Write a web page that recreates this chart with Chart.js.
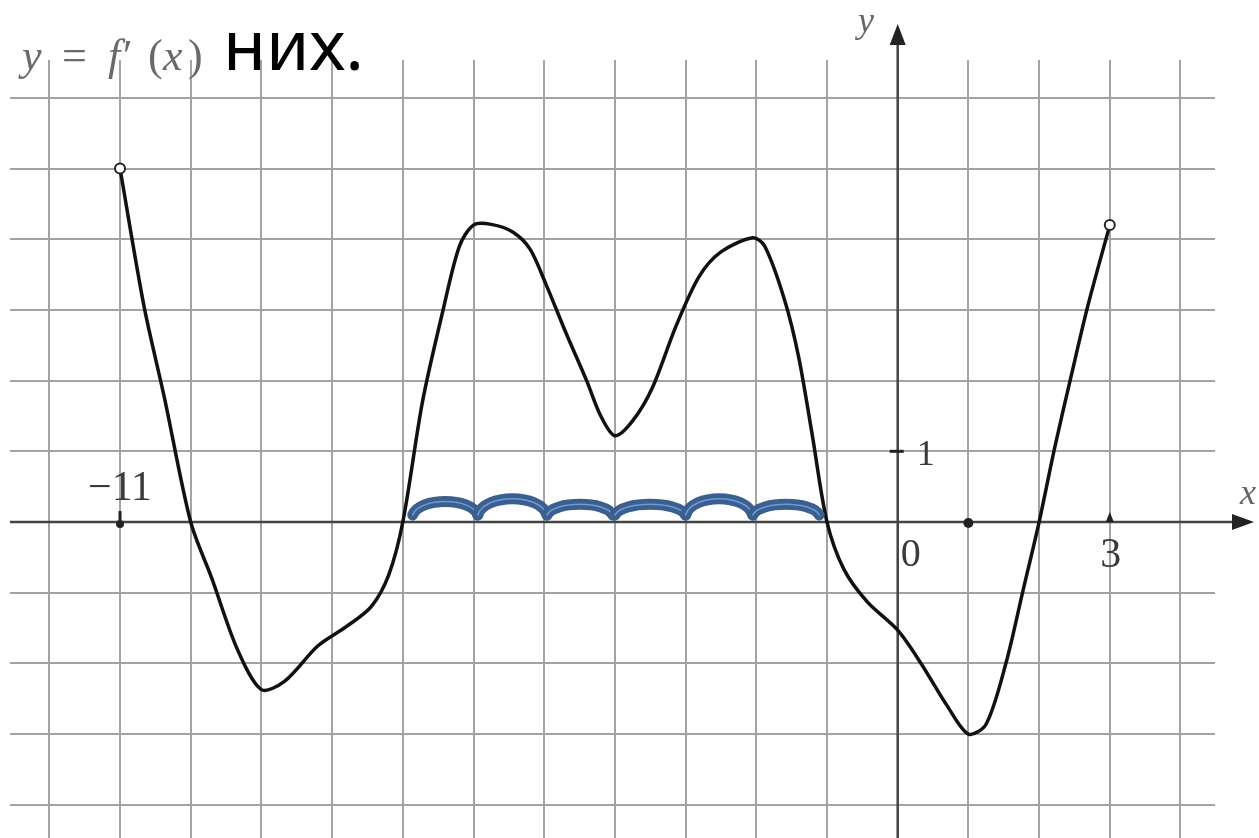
<!DOCTYPE html>
<html>
<head>
<meta charset="utf-8">
<script src="https://cdn.jsdelivr.net/npm/chart.js@4.4.1/dist/chart.umd.min.js"></script>
<style>
  html, body { margin: 0; padding: 0; background: #fff; }
  canvas { display: block; }
</style>
</head>
<body>
<canvas id="graph" width="1259" height="838"></canvas>
<script>
// y = f'(x)
const xs = [-11, -10.66, -10.37, -10, -9.7, -9.34, -9, -8.67, -8.2, -7.8, -7.45, -7.2, -7,
  -6.72, -6.43, -6.2, -6.0, -5.75, -5.44, -5.2, -4.97, -4.69, -4.4, -4.2, -4.0,
  -3.75, -3.47, -3.14, -2.81, -2.5, -2.05, -1.88, -1.6, -1.4, -1.21, -1,
  -0.76, -0.43, 0, 0.33, 0.7, 1, 1.25, 1.53, 1.77, 2, 2.22, 2.45, 2.69, 3];
const ys = [5, 3.05, 1.75, 0, -0.8, -1.8, -2.37, -2.25, -1.75, -1.48, -1.2, -0.75, 0,
  1.71, 3.0, 3.9, 4.2, 4.21, 4.1, 3.86, 3.35, 2.67, 2.0, 1.5, 1.22,
  1.43, 1.9, 2.76, 3.47, 3.82, 4.02, 3.9, 3.14, 2.33, 1.24, 0,
  -0.67, -1.13, -1.53, -2.0, -2.6, -3, -2.86, -2.0, -0.98, 0, 1.05, 2.05, 3.06, 4.2];

const gridX = [-12, -11, -10, -9, -8, -7, -6, -5, -4, -3, -2, -1, 0, 1, 2, 3, 4];
const gridY = [-4, -3, -2, -1, 0, 1, 2, 3, 4, 5, 6];

// the blue hand-drawn arcs over the x axis
const arcFrom = [-6.86, -5.94, -4.96, -4.0, -3.0, -2.05];
const arcTo   = [-5.94, -4.96, -4.03, -3.0, -2.05, -1.11];
const arcTop  = [0.29, 0.33, 0.25, 0.25, 0.33, 0.25];
const arcBase = 0.1;

const serif = '"Liberation Serif", "DejaVu Serif", serif';

const axesPlugin = {
  id: 'axes',
  beforeDatasetsDraw(chart) {
    const { ctx, scales: { x, y }, chartArea } = chart;
    const x0 = x.getPixelForValue(0), y0 = y.getPixelForValue(0);
    ctx.save();
    ctx.strokeStyle = '#444';
    ctx.fillStyle = '#222';
    ctx.lineWidth = 2.5;
    ctx.beginPath();
    ctx.moveTo(chartArea.left, y0);
    ctx.lineTo(1236, y0);
    ctx.moveTo(x0, 44);
    ctx.lineTo(x0, 838);
    ctx.stroke();
    // arrows
    ctx.beginPath();
    ctx.moveTo(1254, y0);
    ctx.lineTo(1232, y0 - 8);
    ctx.lineTo(1232, y0 + 8);
    ctx.closePath();
    ctx.fill();
    ctx.beginPath();
    ctx.moveTo(x0, 24);
    ctx.lineTo(x0 - 8, 45);
    ctx.lineTo(x0 + 8, 45);
    ctx.closePath();
    ctx.fill();
    // small marks on the axes
    const xm11 = x.getPixelForValue(-11), x1 = x.getPixelForValue(1), x3 = x.getPixelForValue(3);
    const y1 = y.getPixelForValue(1);
    ctx.beginPath(); ctx.arc(xm11, y0 + 2, 4, 0, Math.PI * 2); ctx.fill();
    ctx.fillRect(xm11 - 1.5, y0 - 11, 3, 9);
    ctx.beginPath(); ctx.arc(x1, y0 + 1, 5, 0, Math.PI * 2); ctx.fill();
    ctx.beginPath();
    ctx.moveTo(x3, y0 - 10);
    ctx.lineTo(x3 - 4, y0);
    ctx.lineTo(x3 + 4, y0);
    ctx.closePath();
    ctx.fill();
    ctx.fillRect(x0 - 8, y1 - 1.5, 14, 3);
    ctx.restore();
  },
  afterDatasetsDraw(chart) {
    const { ctx, scales: { x, y } } = chart;
    ctx.save();
    ctx.lineCap = 'round';
    arcFrom.forEach((a, i) => {
      const px0 = x.getPixelForValue(a), px1 = x.getPixelForValue(arcTo[i]);
      const pb = y.getPixelForValue(arcBase), pt = y.getPixelForValue(arcTop[i]);
      const w = px1 - px0, c = pb - (pb - pt) / 0.75;
      const path = () => {
        ctx.beginPath();
        ctx.moveTo(px0, pb);
        ctx.bezierCurveTo(px0 + w * 0.1, c, px1 - w * 0.1, c, px1, pb);
      };
      path();
      ctx.strokeStyle = '#3b5f8e';
      ctx.lineWidth = 11;
      ctx.stroke();
      path();
      ctx.strokeStyle = '#6f9bd3';
      ctx.lineWidth = 1.5;
      ctx.stroke();
    });
    ctx.restore();
  },
  afterDraw(chart) {
    const { ctx, scales: { x, y } } = chart;
    const x0 = x.getPixelForValue(0), y0 = y.getPixelForValue(0);
    ctx.save();
    ctx.fillStyle = '#3a3a3a';
    ctx.textBaseline = 'alphabetic';
    ctx.textAlign = 'center';
    ctx.font = '42px ' + serif;
    ctx.fillText('\u221211', x.getPixelForValue(-11), y0 - 22);
    ctx.fillText('3', x.getPixelForValue(3) + 1, y0 + 45);
    ctx.font = '40px ' + serif;
    ctx.fillText('0', x0 + 13, y0 + 44);
    ctx.font = '36px ' + serif;
    ctx.fillText('1', x0 + 28, y.getPixelForValue(1) + 14);
    // axis names
    ctx.textAlign = 'left';
    ctx.fillStyle = '#666';
    ctx.font = 'italic 36px ' + serif;
    ctx.fillText('y', 858, 32);
    ctx.fillText('x', 1240, 504);
    // function label
    ctx.fillStyle = '#6a6a6a';
    ctx.font = 'italic 44px ' + serif;
    ctx.fillText('y', 22, 70);
    ctx.font = '44px ' + serif;
    ctx.fillText('=', 62, 70);
    ctx.font = 'italic 44px ' + serif;
    ctx.fillText('f\u2032', 108, 70);
    ctx.font = '44px ' + serif;
    ctx.fillText('(', 148, 70);
    ctx.font = 'italic 44px ' + serif;
    ctx.fillText('x', 163, 70);
    ctx.font = '44px ' + serif;
    ctx.fillText(')', 188, 70);
    ctx.fillStyle = '#000';
    ctx.font = '70px "Noto Sans", sans-serif';
    ctx.fillText('них.', 223, 70);
    ctx.restore();
  }
};

const gridStyle = {
  color: '#a3a3a3',
  lineWidth: 2,
  drawTicks: false
};

new Chart(document.getElementById('graph'), {
  type: 'line',
  data: {
    datasets: [{
      data: xs.map((v, i) => ({ x: v, y: ys[i] })),
      borderColor: '#111',
      borderWidth: 3.5,
      tension: 0.3,
      pointRadius: c => (c.dataIndex === 0 || c.dataIndex === xs.length - 1) ? 5 : 0,
      pointBackgroundColor: '#fff',
      pointBorderColor: '#222',
      pointBorderWidth: 2
    }]
  },
  options: {
    responsive: false,
    animation: false,
    layout: { autoPadding: false, padding: { left: 10, right: 44, top: 60, bottom: 0 } },
    plugins: { legend: { display: false }, tooltip: { enabled: false } },
    scales: {
      x: {
        type: 'linear',
        min: -12.556,
        max: 4.488,
        afterBuildTicks: s => { s.ticks = gridX.map(v => ({ value: v })); },
        ticks: { display: false },
        grid: gridStyle,
        border: { display: false }
      },
      y: {
        type: 'linear',
        min: -4.469,
        max: 6.535,
        afterBuildTicks: s => { s.ticks = gridY.map(v => ({ value: v })); },
        ticks: { display: false },
        grid: gridStyle,
        border: { display: false }
      }
    }
  },
  plugins: [axesPlugin]
});
</script>
</body>
</html>
